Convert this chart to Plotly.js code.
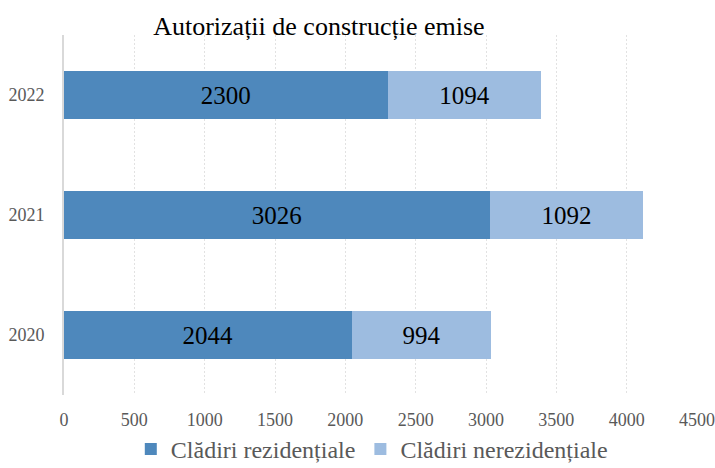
<!DOCTYPE html>
<html>
<head>
<meta charset="utf-8">
<script src="https://cdn.plot.ly/plotly-3.0.1.min.js"></script>
<style>
  html, body { margin: 0; padding: 0; background: #fff; }
  #chart { width: 715px; height: 468px; }
</style>
</head>
<body>
<div id="chart"></div>
<script>
// Autorizatii de constructie emise, pe ani
const years = ['2020', '2021', '2022'];
const rezidentiale = [2044, 3026, 2300];
const nerezidentiale = [994, 1092, 1094];
const xTicks = [0, 500, 1000, 1500, 2000, 2500, 3000, 3500, 4000, 4500];

const FONT = 'Liberation Serif, Times New Roman, serif';

const traces = [
  {
    type: 'bar',
    orientation: 'h',
    name: 'Clădiri rezidențiale',
    y: years,
    x: rezidentiale,
    text: rezidentiale.map(String),
    textposition: 'inside',
    insidetextanchor: 'middle',
    textfont: { family: FONT, size: 25, color: '#000' },
    marker: { color: '#4e88bc' },
    hoverinfo: 'x+name'
  },
  {
    type: 'bar',
    orientation: 'h',
    name: 'Clădiri nerezidențiale',
    y: years,
    x: nerezidentiale,
    text: nerezidentiale.map(String),
    textposition: 'inside',
    insidetextanchor: 'middle',
    textfont: { family: FONT, size: 25, color: '#000' },
    marker: { color: '#9dbce0' },
    hoverinfo: 'x+name'
  }
];

const layout = {
  width: 715,
  height: 468,
  margin: { l: 64, r: 18, t: 35, b: 73 },
  paper_bgcolor: '#fff',
  plot_bgcolor: '#fff',
  barmode: 'stack',
  bargap: 0.6,
  font: { family: FONT, color: '#595959' },
  title: {
    text: 'Autorizații de construcție emise',
    font: { family: FONT, size: 26, color: '#000' },
    xref: 'container', x: 0.446, xanchor: 'center',
    yref: 'container', y: 0.945, yanchor: 'middle'
  },
  xaxis: {
    range: [0, 4500],
    tickvals: xTicks,
    showgrid: true,
    gridcolor: '#e2e2e2',
    griddash: '2px,2px',
    gridwidth: 1,
    zeroline: false,
    showline: false,
    ticks: '',
    ticklabelstandoff: 12,
    tickfont: { family: FONT, size: 18, color: '#595959' }
  },
  yaxis: {
    showgrid: false,
    zeroline: false,
    showline: true,
    linecolor: '#d9d9d9',
    linewidth: 2,
    ticks: '',
    ticklabelstandoff: 14,
    tickfont: { family: FONT, size: 18, color: '#595959' }
  },
  showlegend: true,
  legend: {
    orientation: 'h',
    xref: 'container', x: 0.52, xanchor: 'center',
    yref: 'container', y: 0.088, yanchor: 'top',
    font: { family: FONT, size: 24, color: '#595959' },
    itemwidth: 30,
    traceorder: 'normal'
  }
};

Plotly.newPlot('chart', traces, layout, { displayModeBar: false, staticPlot: true });
</script>
</body>
</html>
